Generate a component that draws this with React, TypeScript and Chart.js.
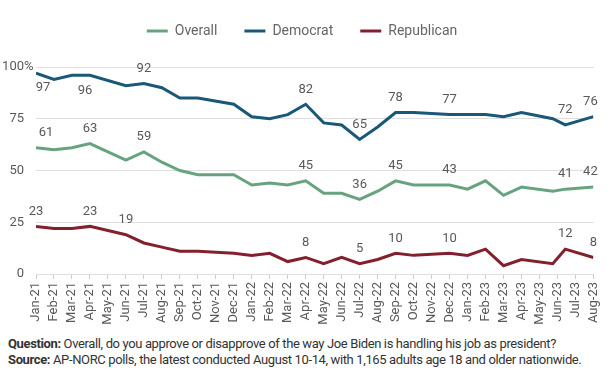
import React, { useEffect, useRef } from "react";
import { Chart, registerables } from "chart.js";

Chart.register(...registerables);

// ---- Data ----
const monthLabels = [
  "Jan-21", "Feb-21", "Mar-21", "Apr-21", "May-21", "Jun-21", "Jul-21", "Aug-21",
  "Sep-21", "Oct-21", "Nov-21", "Dec-21", "Jan-22", "Feb-22", "Mar-22", "Apr-22",
  "May-22", "Jun-22", "Jul-22", "Aug-22", "Sep-22", "Oct-22", "Nov-22", "Dec-22",
  "Jan-23", "Feb-23", "Mar-23", "Apr-23", "May-23", "Jun-23", "Jul-23", "Aug-23",
];

const pollDates = [
  "2021-01-01", "2021-02-01", "2021-03-01", "2021-04-01", "2021-06-01", "2021-07-01",
  "2021-08-01", "2021-09-01", "2021-10-01", "2021-12-01", "2022-01-01", "2022-02-01",
  "2022-03-01", "2022-04-01", "2022-05-01", "2022-06-01", "2022-07-01", "2022-08-01",
  "2022-09-01", "2022-10-01", "2022-12-01", "2023-01-01", "2023-02-01", "2023-03-01",
  "2023-04-01", "2023-05-24", "2023-06-14", "2023-08-01",
];

const overall = [61, 60, 61, 63, 55, 59, 54, 50, 48, 48, 43, 44, 43, 45, 39, 39, 36, 40, 45, 43, 43, 41, 45, 38, 42, 40, 41, 42];
const democrat = [97, 94, 96, 96, 91, 92, 90, 85, 85, 82, 76, 75, 77, 82, 73, 72, 65, 71, 78, 78, 77, 77, 77, 76, 78, 75, 72, 76];
const republican = [23, 22, 22, 23, 19, 15, 13, 11, 11, 10, 9, 10, 6, 8, 5, 8, 5, 7, 10, 9, 10, 9, 12, 4, 7, 5, 12, 8];

const yTicks = [0, 25, 50, 75, 100];

// indices of points that carry a value label
const overallLabelIdx = [0, 3, 5, 13, 16, 18, 20, 26, 27];
const democratLabelIdx = [0, 3, 5, 13, 16, 18, 20, 26, 27];
const republicanLabelIdx = [0, 3, 4, 13, 16, 18, 20, 26, 27];

// ---- Style ----
const COLORS = { overall: "#68a380", democrat: "#1a5878", republican: "#84202e" };
const TEXT = "#595959";
const FONT = "Roboto, 'Noto Sans', sans-serif";

// label placement tweaks (style, not data): pointIndex -> {below, dx}
const labelTweaks: Record<string, Record<number, { below?: boolean; dx?: number }>> = {
  Overall: { 0: { dx: 10 }, 27: { dx: -3 } },
  Democrat: { 0: { below: true, dx: 7 }, 3: { below: true, dx: -5 }, 27: { dx: -3 } },
  Republican: {},
};

function monthPos(d: string): number {
  const [y, m, day] = d.split("-").map(Number);
  const dim = new Date(Date.UTC(y, m, 0)).getUTCDate();
  return (y - 2021) * 12 + (m - 1) + (day - 1) / dim;
}

const toPoints = (vals: number[]) => vals.map((v, i) => ({ x: monthPos(pollDates[i]), y: v }));

const valueLabels = {
  id: "valueLabels",
  afterDatasetsDraw(chart: any) {
    const ctx = chart.ctx;
    ctx.save();
    ctx.font = `13px ${FONT}`;
    ctx.fillStyle = TEXT;
    ctx.textAlign = "center";
    ctx.textBaseline = "middle";
    chart.data.datasets.forEach((ds: any, di: number) => {
      const meta = chart.getDatasetMeta(di);
      const tw = labelTweaks[ds.label] || {};
      (ds.labelIdx as number[]).forEach((pi) => {
        const el = meta.data[pi];
        if (!el) return;
        const t = tw[pi] || {};
        const y = el.y + (t.below ? 15 : -15);
        ctx.fillText(String(ds.data[pi].y), el.x + (t.dx || 0), y);
      });
    });
    ctx.restore();
  },
};

const percentSign = {
  id: "percentSign",
  afterDraw(chart: any) {
    const s = chart.scales.y;
    const ctx = chart.ctx;
    ctx.save();
    ctx.font = `13px ${FONT}`;
    ctx.fillStyle = TEXT;
    ctx.textAlign = "left";
    ctx.textBaseline = "middle";
    ctx.fillText("%", s.right - 12, s.getPixelForValue(100));
    ctx.restore();
  },
};

const legendSpacing = {
  id: "legendSpacing",
  beforeInit(chart: any) {
    const legend = chart.legend;
    if (!legend) return;
    const fit = legend.fit;
    legend.fit = function () {
      fit.call(this);
      this.height += 19;
    };
  },
};

export default function App() {
  const ref = useRef<HTMLCanvasElement | null>(null);

  useEffect(() => {
    document.body.style.margin = "0";
    const canvas = ref.current;
    if (!canvas) return;
    const chart = new Chart(canvas, {
      type: "line",
      data: {
        datasets: [
          { label: "Overall", data: toPoints(overall), labelIdx: overallLabelIdx, borderColor: COLORS.overall, backgroundColor: COLORS.overall } as any,
          { label: "Democrat", data: toPoints(democrat), labelIdx: democratLabelIdx, borderColor: COLORS.democrat, backgroundColor: COLORS.democrat } as any,
          { label: "Republican", data: toPoints(republican), labelIdx: republicanLabelIdx, borderColor: COLORS.republican, backgroundColor: COLORS.republican } as any,
        ].map((d) => ({ ...d, borderWidth: 3, pointRadius: 0, pointHoverRadius: 0, tension: 0, fill: false })),
      },
      options: {
        animation: false,
        responsive: false,
        devicePixelRatio: 1,
        layout: { padding: { top: -3, right: 8, left: 0, bottom: 0 } },
        plugins: {
          tooltip: { enabled: false },
          legend: {
            display: true,
            position: "top",
            labels: {
              boxWidth: 21,
              boxHeight: 3,
              padding: 27,
              color: "#666",
              font: { family: FONT, size: 14 },
              generateLabels: (c: any) =>
                (Chart.defaults.plugins.legend.labels as any).generateLabels(c).map((l: any) => ({
                  ...l,
                  lineWidth: 0,
                  fillStyle: l.strokeStyle,
                })),
            },
          },
        },
        scales: {
          x: {
            type: "linear",
            min: 0,
            max: monthLabels.length - 1,
            afterFit: (s: any) => { s.height = 61; },
            grid: { drawOnChartArea: false, drawTicks: true, tickLength: 5, color: "#cccccc" },
            border: { display: false },
            ticks: {
              stepSize: 1,
              autoSkip: false,
              minRotation: 90,
              maxRotation: 90,
              padding: 3,
              color: TEXT,
              font: { family: FONT, size: 13 },
              callback: (v: any) => monthLabels[Math.round(Number(v))] ?? "",
            },
          },
          y: {
            min: 0,
            max: 100,
            afterFit: (s: any) => { s.width = 36; },
            afterBuildTicks: (s: any) => { s.ticks = yTicks.map((v) => ({ value: v })); },
            grid: { drawTicks: false, color: "#dedede", lineWidth: 1 },
            border: { display: false },
            ticks: {
              padding: 12,
              color: TEXT,
              font: { family: FONT, size: 13 },
              callback: (v: any) => String(v),
            },
          },
        },
      },
      plugins: [valueLabels, percentSign, legendSpacing],
    });
    return () => chart.destroy();
  }, []);

  return (
    <div style={{ width: 612, fontFamily: FONT }}>
      <canvas ref={ref} width={612} height={335} style={{ display: "block" }} />
      <div style={{ fontSize: 13, lineHeight: "16px", color: "#333", paddingLeft: 8, marginTop: 1, letterSpacing: "-0.37px", whiteSpace: "nowrap" }}>
        <div><b>Question:</b> Overall, do you approve or disapprove of the way Joe Biden is handling his job as president?</div>
        <div><b>Source:</b> AP-NORC polls, the latest conducted August 10-14, with 1,165 adults age 18 and older nationwide.</div>
      </div>
    </div>
  );
}
